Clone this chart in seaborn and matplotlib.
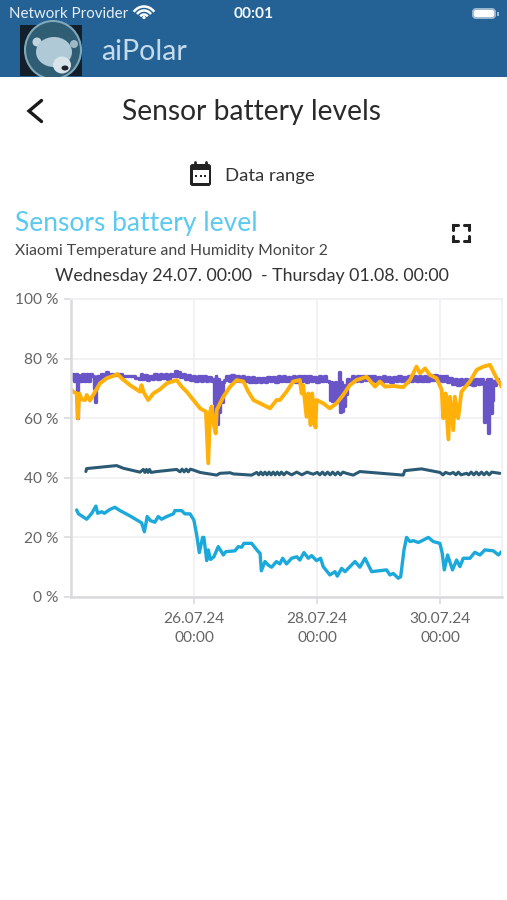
import matplotlib
matplotlib.use("Agg")
import matplotlib.pyplot as plt
from matplotlib.patches import Rectangle, FancyBboxPatch, Circle, Ellipse, Arc
import pandas as pd
import seaborn as sns

# hours since Wednesday 24.07. 00:00, battery level in %
orange_h = [0,0.9,2.2,2.7,3.2,4.2,5.5,6.1,7.4,9.4,11.3,13.9,16.5,18.1,19.7,23,26.9,27.5,28.2,30.1,32.1,34.7,37.3,41.2,43.1,45.1,47.7,50.3,52.6,53.5,54.2,54.8,55.7,56.4,56.8,59.4,62,64.6,67.2,69.1,71.1,73.7,77.6,80.1,81.4,84,86.6,89.2,89.9,90.5,91.8,92.5,93.4,94,95.3,95.7,98.3,100.9,103.5,106.1,108.7,111.3,115.2,118.5,120.4,122.4,125.6,129.5,132.1,134.7,136,138,139.9,142.5,144.5,145.1,146,147.1,147.7,149,149.6,150.9,152.2,155.5,158.1,160.7,163.3,165.9,167.8]
orange_v = [69.7,68.9,68.3,60,68.3,66.3,66.1,67.8,65.9,68.9,71.7,73.4,74.2,74.8,73.4,71.1,68.9,71.1,68.9,66.1,68.3,69.7,71.7,72.8,70.6,68.9,66.1,63.3,62.2,44.9,62.2,63.9,57.7,54.9,62.8,67.2,70.6,72.8,72.3,68.9,66.1,65,63.3,66.1,66.1,68.9,72.3,72.8,68.3,71.1,60.5,68.3,57.7,68.3,56.9,66.1,65,63.3,65,67.8,71.1,72.8,73.9,70.6,72.3,70.6,70.8,70.4,72.8,77.3,75.1,76.7,74.5,73.4,69.5,60,68.3,52.9,67.2,56,67.2,60,68.9,72.3,76.2,77.3,77.9,73.4,70.6]

purple_pairs = [
    (0,73),(0.8,75),(1.6,72.5),(2.3,74.8),(2.5,60),(2.8,74.5),(3.8,72.5),(4.6,75),(5.4,72.6),(6.2,75),
    (7,72.6),(7.8,75),(8.7,74),(9.1,70),(9.7,65.5),(10,70),(10.3,74),(11.3,72.8),(12,75),(13,73.5),
    (14,75.5),(15,74),(16,75),(17,74.6),(18,75),(22,74.3),(24,74),(26,73.6),(27,73),(27.3,75),
    (28,73),(29,74.5),(30,72.8),(31,74.3),(32,73),(33,74.8),(34,73),(35,74.9),(36,73.5),(37,75),
    (38,73.3),(39,74.8),(40,74),(41,75.8),(41.5,74),(42,75.5),(43,73.8),(44,75),(45,73),(46,74.5),
    (47,72.8),(48,74.2),(49,72.6),(50,74.2),(51,72.5),(52,74),(53,72.6),(54,73.8),(55,72.4),(55.5,73),
    (55.9,65),(56.2,58),(56.5,74),(56.8,64.4),(57.1,58),(57.4,73),(57.7,64.4),(58,62),(58.3,72),(58.7,65.5),
    (59.5,72),(60,72.8),(61,74.3),(62,72.6),(63,74.4),(64,72.4),(65,74),(66,72.4),(67,74.2),(68,72.4),
    (69,73.8),(70,72.2),(71,73.8),(72,72.2),(73,73.6),(74,72.2),(75,73.6),(76,72.2),(77,73.8),(78,72.4),
    (79,73.8),(80,72.2),(81,74),(82,72.4),(83,74),(84,72.4),(85,73.8),(86,72.4),(87,74),(88,72.2),
    (89,74.2),(90,72.4),(91,74),(92,72.2),(93,74),(94,72.4),(95,73.8),(96,72.2),(97,74),(98,72.4),
    (99,74),(100,72.4),(100.9,72),(101.2,66),(101.6,72),(102,65.8),(102.4,71),(102.8,66),(103.2,72),(103.6,65.5),
    (104,70),(104.4,66),(104.7,75.5),(105.1,62),(105.4,72),(105.8,62.5),(106.2,70),(106.6,64),(107,71),(107.5,68),
    (108,73),(109,72.4),(110,74.2),(111,72.6),(112,74),(113,72.6),(114,74.3),(115,72.8),(116,74),(117,72.6),
    (118,74),(119,72.4),(120,73.8),(121,72.2),(122,74),(123,72.4),(124,73.8),(125,72.2),(126,73.8),(127,72.4),
    (128,74),(129,72.4),(130,73.8),(131,72.2),(132,74),(133,72.4),(134,74),(135,72.4),(136,74.2),(137,72.6),
    (138,74.2),(139,72.6),(140,74.4),(141,72.8),(142,74.4),(143,72.6),(144,74.2),(145,72.4),(146,74),(147,72),
    (148,73.6),(149,71.4),(150,73),(151,71.2),(152,73),(153,71.4),(154,73),(155,71.4),(156,73),(157,71.2),
    (158,73),(159,71.4),(160,73),(160.8,71.4),(161.2,58.8),(161.6,72),(162,66),(162.4,73),(162.8,54.9),(163.2,66),
    (163.6,73),(164,61.6),(164.4,66),(164.8,72.5),(165.3,71),(166,73),(167,72),(168,71),
]
purple_h = [p[0] for p in purple_pairs]
purple_v = [p[1] for p in purple_pairs]

navy_pairs = [
    (5.8,42.1),(6.1,43.1),(17.8,44.1),(20.4,43.2),(26.9,41.9),(28.2,42.8),(28.8,41.8),(29.4,42.8),(30,41.8),(30.6,42.8),
    (31.2,41.8),(33.4,42.1),(41.2,42.8),(42.5,42),(43.3,42.9),(44.1,42),(44.9,42.9),(45.7,42),(46.5,42.9),(47.7,42.6),
    (50.3,41.8),(56.8,40.9),(58,41.5),(62,41.7),(63.3,41.3),(70.4,40.9),(72.4,41.8),(73.2,41),(74,41.9),(74.8,41),
    (75.6,41.9),(76.4,41),(77.2,41.9),(78,41),(78.8,41.9),(79.6,41),(80.4,41.9),(81.2,41),(82,41.9),(83,41),
    (84,41.9),(86,41),(88,41.9),(90,41),(92,41.9),(94.4,41.2),(96,41.8),(97,41),(98,41.9),(99,41),
    (100,41.9),(101,41),(102,41.9),(103,41),(104,41.9),(105,41),(106,41.9),(107.4,41.5),(110,40.9),(112.6,42.1),
    (129.5,40.9),(130.1,42.4),(136.6,43),(143.8,41.8),(145,41),(146,41.8),(147.7,41.3),(149,41.8),(150,41),(151,41.9),
    (152,41),(154.2,41.5),(155,41),(156,41.9),(157,41),(158,41.9),(159,41),(160,41.9),(161,41),(162,41.9),
    (163,41),(164,41.9),(167.2,41.5),
]
navy_h = [p[0] for p in navy_pairs]
navy_v = [p[1] for p in navy_pairs]

cyan_h = [2.2,2.9,4.2,6.1,8.1,9.7,10.4,12,13,15.2,17.1,19.1,23,27.5,28.6,29.7,31,32.7,34,35.3,37.3,39.9,40.5,43.1,44.4,46.4,47.9,49,50,51.3,51.8,52.9,53.5,54.4,55.7,57.4,59.4,60.3,63.9,65.2,66.5,67.4,70.4,73,73.7,74.2,75.6,76.9,78.2,80.1,81.4,82.5,84,86,88,89.2,90.8,92.5,93.8,95.7,97.3,98.3,100.9,102.9,103.8,105.5,106.8,110.7,112.6,114.6,117.2,123,124.3,125.6,127.6,128.5,129.8,130.8,132.1,133.4,135.4,137.3,139.3,141.2,143.8,144.7,145.5,146.8,148.7,150.3,151.6,152.9,155.5,157.4,159.4,161.3,164.6,166.6,167.8]
cyan_v = [29.2,27.9,27.2,26.1,28.1,30.5,28.1,28.6,28.1,29.4,30.1,29,27.2,24.9,21.9,27,25.6,25.1,27,26.1,27,27.9,29,29,27.9,27.9,25.8,20.8,14.9,20,20,12.2,15.8,12.6,13.5,16.9,14.1,15.2,15.5,16.9,16.7,18,18,15.2,14.7,8.8,11.9,10.7,10,11.9,11.1,13,11.1,13,13.5,12.4,14.9,13,13.9,12.2,13,10.2,7.4,8.5,7,9.6,8.5,11.9,10,13,8.5,9.1,7.4,7.9,6.3,6.8,15.8,20,18.6,18.9,18.3,19.1,20,18.6,18,14.7,9.1,14.1,9.1,12.4,10.2,13,13,15,14.1,15.8,15.5,14.1,15.2]

y_ticks = [0, 20, 40, 60, 80, 100]
y_labels = ["0 %", "20 %", "40 %", "60 %", "80 %", "100 %"]
x_ticks = [48, 96, 144]
x_labels = ["26.07.24\n00:00", "28.07.24\n00:00", "30.07.24\n00:00"]

W, H = 507, 900
sns.set_theme(style="white")
plt.rcParams["font.family"] = ["Lato", "DejaVu Sans"]
fig = plt.figure(figsize=(W / 100, H / 100), dpi=100, facecolor="white")

# page chrome, drawn in a pixel-based overlay
ui = fig.add_axes([0, 0, 1, 1], zorder=0)
ui.set_xlim(0, W); ui.set_ylim(H, 0); ui.axis("off")
ui.add_patch(Rectangle((0, 0), W, 76.5, color="#246295", lw=0))
ui.text(9, 14, "Network Provider", color="#E6EEF5", fontsize=10.9, va="center")
ui.text(253.5, 14, "00:01", color="#F4F7FA", fontsize=11.2, weight="bold", ha="center", va="center")
for r in (4.5, 8.5, 12.5):
    ui.add_patch(Arc((144, 19), r * 2, r * 2, theta1=215, theta2=325, color="white", lw=1.8))
ui.add_patch(Circle((144, 17.5), 1.6, color="white", lw=0))
ui.add_patch(FancyBboxPatch((473, 9), 22, 9, boxstyle="round,pad=0,rounding_size=3", fc="white", ec="#9DB8D0", lw=1.4))
ui.add_patch(Rectangle((497, 12), 1.5, 3.5, color="#9DB8D0", lw=0))
# avatar
ui.add_patch(Rectangle((20, 25), 62, 51, color="#13202C", lw=0))
ui.add_patch(Ellipse((53, 50), 56, 58, fc="#2F5D74", ec="#7FA9BA", lw=1.5))
ui.add_patch(Ellipse((37, 42), 9, 9, fc="#C0D4DD", lw=0))
ui.add_patch(Ellipse((74, 44), 8, 8, fc="#9DB9C5", lw=0))
ui.add_patch(Ellipse((54, 52), 36, 30, fc="#AFCAD6", lw=0))
ui.add_patch(Ellipse((62, 65), 18, 17, fc="#D8E4E9", lw=0))
ui.add_patch(Ellipse((65, 68), 7, 5, fc="#1B2228", lw=0))
ui.add_patch(Rectangle((0, 76.5), W, 12, color="white", lw=0))
ui.text(101, 52, "aiPolar", color="#C6DBEA", fontsize=20.5, va="center")
ui.plot([41.5, 29, 41.5], [100.5, 111, 121.5], color="#1A1A1A", lw=2.4, solid_capstyle="round", solid_joinstyle="miter")
ui.text(252, 112, "Sensor battery levels", color="#2A2A2A", fontsize=20.3, ha="center", va="center")
# calendar icon
ui.add_patch(FancyBboxPatch((190, 164), 21, 22, boxstyle="round,pad=0,rounding_size=2.5", fc="#222222", lw=0))
ui.add_patch(Rectangle((192.5, 170), 16, 13, color="white", lw=0))
ui.plot([195, 195], [162, 166], color="#222222", lw=2)
ui.plot([206, 206], [162, 166], color="#222222", lw=2)
for cx in (196, 200.5, 205):
    ui.add_patch(Rectangle((cx - 1, 175), 2, 2, color="#222222", lw=0))
ui.text(225, 176, "Data range", color="#333333", fontsize=13.3, va="center")
ui.text(15, 223, "Sensors battery level", color="#5CC9F0", fontsize=19, va="center")
ui.text(15, 250.5, "Xiaomi Temperature and Humidity Monitor 2", color="#444444", fontsize=11.35, va="center")
ui.text(251.5, 276, "Wednesday 24.07. 00:00  - Thursday 01.08. 00:00", color="#333333", fontsize=12.75, ha="center", va="center")
for (x0, y0, dx, dy) in [(453, 225, 1, 1), (469, 225, -1, 1), (453, 241, 1, -1), (469, 241, -1, -1)]:
    ui.plot([x0 + 5 * dx, x0, x0], [y0, y0, y0 + 5 * dy], color="#222222", lw=2.2, solid_joinstyle="miter")

# chart
ax = fig.add_axes([71 / W, 1 - 597 / H, (502 - 71) / W, (597 - 299) / H], zorder=1)
ax.patch.set_alpha(0)
series = [
    (purple_h, purple_v, "#6A55C8", 2.4, "steps-mid"),
    (navy_h, navy_v, "#2B5A75", 2.2, "default"),
    (cyan_h, cyan_v, "#1BA8DB", 2.4, "default"),
    (orange_h, orange_v, "#FFB10A", 2.8, "default"),
]
for hs, vs, col, lw, ds in series:
    df = pd.DataFrame({"hours": hs, "level": vs})
    sns.lineplot(data=df, x="hours", y="level", estimator=None, sort=False, color=col, lw=lw, ax=ax, drawstyle=ds)

ax.set_xlim(0, 168); ax.set_ylim(0, 100)
ax.set_xlabel(""); ax.set_ylabel("")
ax.set_yticks(y_ticks, y_labels)
ax.set_xticks(x_ticks, x_labels, linespacing=1.45)
ax.grid(True, color="#F0F0F3", lw=1.2)
ax.set_axisbelow(True)
ax.tick_params(axis="both", length=5, width=1.2, color="#DADADE", labelcolor="#666666", labelsize=11.2, left=True, bottom=True)
ax.tick_params(axis="y", pad=4)
ax.tick_params(axis="x", pad=6)
ax.spines["top"].set_color("#F0F0F3"); ax.spines["top"].set_linewidth(1.2)
ax.spines["right"].set_color("#F0F0F3"); ax.spines["right"].set_linewidth(1.2)
ax.spines["left"].set_color("#DADADE"); ax.spines["left"].set_linewidth(1.8)
ax.spines["bottom"].set_color("#DADADE"); ax.spines["bottom"].set_linewidth(1.8)

fig.savefig("out.png", dpi=100)
